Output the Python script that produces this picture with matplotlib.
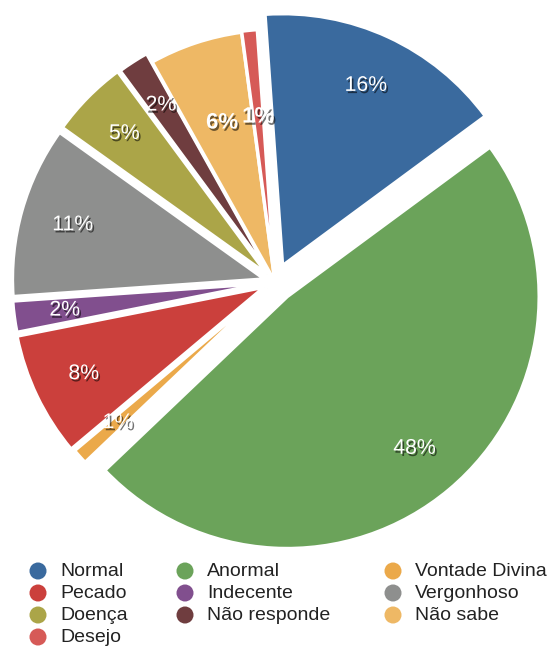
import numpy as np
import matplotlib
matplotlib.use("Agg")
import matplotlib.pyplot as plt
import matplotlib.patheffects as pe

# ---- data ----
categories = ["Normal", "Anormal", "Vontade Divina", "Pecado", "Indecente",
              "Vergonhoso", "Doença", "Não responde", "Não sabe", "Desejo"]
values = [16, 48, 1, 8, 2, 11, 5, 2, 6, 1]
colors = ["#3A6A9E", "#6BA35A", "#EBA94A", "#CB403C", "#814F8E",
          "#8E8F8E", "#ABA548", "#6F3D3F", "#EEB865", "#D65A57"]
labels_pct = [f"{v}%" for v in values]

# ---- layout ----
W, H = 551, 648
cx, cy_px, R = 275, 282, 252
explode_px = [18, 19, 10, 12, 11, 11, 11, 10, 0, 1]
label_frac = [0.788, 0.786, 0.797, 0.794, 0.798, 0.791, 0.796, 0.796, 0.665, 0.654]
label_bold = [False, False, False, False, False, False, False, False, True, True]

plt.rcParams['font.family'] = ['Liberation Sans', 'DejaVu Sans']
fig = plt.figure(figsize=(W / 100, H / 100), dpi=100)
ax = fig.add_axes([0, 0, 1, 1])

wedges, _ = ax.pie(values, colors=colors, startangle=94, counterclock=False,
                   explode=explode_px, radius=R,
                   center=(cx, H - cy_px), frame=True,
                   wedgeprops=dict(edgecolor='white', linewidth=2.5))
ax.set_xlim(0, W)
ax.set_ylim(0, H)
ax.set_aspect('equal')
ax.axis('off')

shadow = [pe.withSimplePatchShadow(offset=(1.2, -1.6), shadow_rgbFace='black', alpha=0.55)]
for w, lab, f, b in zip(wedges, labels_pct, label_frac, label_bold):
    ang = np.deg2rad((w.theta1 + w.theta2) / 2)
    x0, y0 = w.center
    ax.text(x0 + f * R * np.cos(ang), y0 + f * R * np.sin(ang), lab,
            ha='center', va='center', color='white',
            fontsize=16 if b else 15.3, fontweight='bold' if b else 'normal',
            path_effects=shadow)

# ---- legend (row-major, 3 columns) ----
col_marker_x = [38, 185, 393]
row_y = [571, 593, 615, 637]
for i, (name, col) in enumerate(zip(categories, colors)):
    r, c = divmod(i, 3)
    mx, my = col_marker_x[c], H - row_y[r]
    ax.scatter([mx], [my], s=150, color=col, edgecolors='none')
    ax.text(mx + 22, my, name, ha='left', va='center', fontsize=14,
            color='#222222')

fig.savefig("out.png", dpi=100)
